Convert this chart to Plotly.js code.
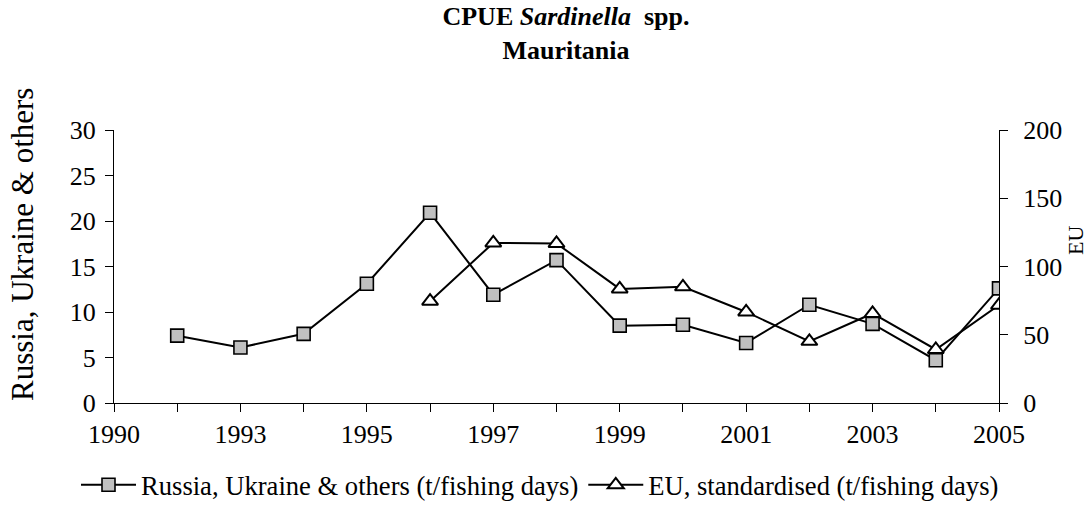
<!DOCTYPE html>
<html>
<head>
<meta charset="utf-8">
<script src="https://cdn.plot.ly/plotly-3.0.1.min.js"></script>
<style>html,body{margin:0;padding:0;background:#fff;}#chart{width:1090px;height:513px;}</style>
</head>
<body>
<div id="chart"></div>
<script>
// Data
const years = ['1990','1992','1993','1994','1995','1996','1997','1998','1999','2000','2001','2002','2003','2004','2005'];
const xTickText = ['1990','','1993','','1995','','1997','','1999','','2001','','2003','','2005'];
const russia = [null,7.4,6.1,7.6,13.1,20.9,11.9,15.7,8.5,8.6,6.6,10.8,8.7,4.7,12.6];
const eu = [null,null,null,null,null,74.6,117.3,116.9,83.6,85.1,66.7,45.2,65.6,39.2,71.7];
const seriesNames = ['Russia, Ukraine & others (t/fishing days)', 'EU, standardised (t/fishing days)'];
const leftTitle = 'Russia, Ukraine & others';
const rightTitle = 'EU';

const FONT = '"Liberation Serif", "Times New Roman", Times, serif';

const traces = [
  {
    x: years, y: russia, name: seriesNames[0], type: 'scatter', mode: 'lines+markers',
    xaxis: 'x', yaxis: 'y',
    line: {color: '#000', width: 2},
    marker: {symbol: 'square', size: 13, color: '#c0c0c0', line: {color: '#000', width: 1.6}},
    connectgaps: false
  },
  {
    x: years, y: eu, name: seriesNames[1], type: 'scatter', mode: 'lines+markers',
    xaxis: 'x', yaxis: 'y2',
    line: {color: '#000', width: 2},
    marker: {symbol: 'triangle-up', size: 14, color: '#fff', line: {color: '#000', width: 2}},
    connectgaps: false
  }
];

const axisCommon = {
  showgrid: false, zeroline: false, showline: true, linecolor: '#000', linewidth: 1,
  tickcolor: '#000', tickwidth: 1, ticklen: 8,
  tickfont: {family: FONT, size: 26, color: '#000'}
};

const layout = {
  width: 1090, height: 513,
  margin: {l: 114, r: 91, t: 130, b: 110, pad: 0, autoexpand: false},
  paper_bgcolor: '#fff', plot_bgcolor: '#fff',
  font: {family: FONT, color: '#000'},
  showlegend: true,
  title: {
    text: '<b>CPUE <i>Sardinella</i>&nbsp; spp.</b><br><b>Mauritania</b>',
    font: {family: FONT, size: 26, color: '#000'},
    xref: 'container', x: 566/1090, xanchor: 'center',
    yref: 'container', y: 1 - 25/513, yanchor: 'middle'
  },
  xaxis: Object.assign({}, axisCommon, {
    type: 'category', categoryorder: 'array', categoryarray: years,
    range: [0, years.length - 1], ticks: 'outside',
    tickmode: 'array', tickvals: years, ticktext: xTickText,
    fixedrange: true
  }),
  xaxis2: {
    overlaying: 'x', type: 'linear', range: [0, years.length - 1], dtick: 1, tick0: 0,
    ticks: 'inside', ticklen: 8, tickcolor: '#000', tickwidth: 1,
    showticklabels: false, showline: false, showgrid: false, zeroline: false, side: 'bottom'
  },
  yaxis: Object.assign({}, axisCommon, {
    range: [0, 30], dtick: 5, tick0: 0, ticks: 'outside', side: 'left',
    ticklabelstandoff: 4
  }),
  yaxis2: Object.assign({}, axisCommon, {
    range: [0, 200], dtick: 50, tick0: 0, ticks: 'outside', side: 'right', overlaying: 'y',
    ticklabelstandoff: 10
  }),
  yaxis3: {
    overlaying: 'y', side: 'left', range: [0, 30], dtick: 5, tick0: 0,
    ticks: 'inside', ticklen: 8, tickcolor: '#000', tickwidth: 1,
    showticklabels: false, showline: false, showgrid: false, zeroline: false
  },
  yaxis4: {
    overlaying: 'y', side: 'right', range: [0, 200], dtick: 50, tick0: 0,
    ticks: 'inside', ticklen: 8, tickcolor: '#000', tickwidth: 1,
    showticklabels: false, showline: false, showgrid: false, zeroline: false
  },
  legend: {
    orientation: 'h', xref: 'paper', x: (76-114)/885, xanchor: 'left',
    yref: 'paper', y: (403-461)/273, yanchor: 'top',
    font: {family: FONT, size: 26.6, color: '#000'},
    itemwidth: 55, tracegroupgap: 0, bgcolor: 'rgba(0,0,0,0)', borderwidth: 0
  },
  annotations: [
    {text: leftTitle, xref: 'paper', yref: 'paper', x: (22-114)/885, y: (403-245)/273,
     textangle: -90, showarrow: false, xanchor: 'center', yanchor: 'middle',
     font: {family: FONT, size: 31, color: '#000'}},
    {text: rightTitle, xref: 'paper', yref: 'paper', x: (1075-114)/885, y: (403-241)/273,
     textangle: -90, showarrow: false, xanchor: 'center', yanchor: 'middle',
     font: {family: FONT, size: 22, color: '#000'}}
  ]
};

Plotly.newPlot('chart', traces, layout, {displayModeBar: false, staticPlot: true});
</script>
</body>
</html>
